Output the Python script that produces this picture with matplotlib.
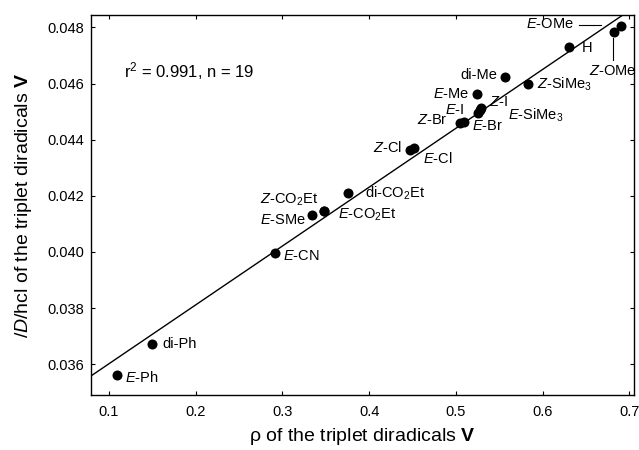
"""
Zero-field splitting |D/hc| vs spin density rho for triplet diradicals V
"""

import matplotlib
matplotlib.use('Agg')
import matplotlib.pyplot as plt

plt.rcParams['font.family'] = ['Liberation Sans', 'DejaVu Sans']
plt.rcParams['mathtext.fontset'] = 'custom'
plt.rcParams['mathtext.rm'] = 'Liberation Sans'
plt.rcParams['mathtext.it'] = 'Liberation Sans:italic'
plt.rcParams['mathtext.bf'] = 'Liberation Sans:bold'

# data
labels = ['$\\mathit{E}$-Ph', 'di-Ph', '$\\mathit{E}$-CN', '$\\mathit{E}$-SMe',
          '$\\mathit{Z}$-CO$_2$Et', '$\\mathit{E}$-CO$_2$Et', 'di-CO$_2$Et',
          '$\\mathit{Z}$-Cl', '$\\mathit{E}$-Cl', '$\\mathit{Z}$-Br', '$\\mathit{E}$-Br',
          '$\\mathit{E}$-I', '$\\mathit{Z}$-I', '$\\mathit{E}$-SiMe$_3$', '$\\mathit{E}$-Me',
          'di-Me', '$\\mathit{Z}$-SiMe$_3$', 'H', '$\\mathit{Z}$-OMe', '$\\mathit{E}$-OMe']
rho = [0.109, 0.150, 0.291, 0.334, 0.348, 0.348, 0.376,
       0.447, 0.452, 0.505, 0.509, 0.526, 0.529, 0.528, 0.524,
       0.557, 0.583, 0.631, 0.682, 0.690]
D = [0.03563, 0.03671, 0.03997, 0.04132, 0.04146, 0.04146, 0.04209,
     0.04362, 0.04369, 0.04460, 0.04464, 0.04496, 0.04513, 0.04506, 0.04562,
     0.04622, 0.04599, 0.04732, 0.04784, 0.04806]

# regression line
slope = 0.02097
intercept = 0.03392
fit_x = [0.079, 0.705]

# label offsets in points (dx, dy, ha, va)
offsets = {
    0: (6, -2, 'left', 'center'),
    1: (7, 0, 'left', 'center'),
    2: (6, -2, 'left', 'center'),
    3: (-4, -4, 'right', 'center'),
    4: (-4, 8, 'right', 'center'),
    5: (10, -3, 'left', 'center'),
    6: (12, 0, 'left', 'center'),
    7: (-6, 2, 'right', 'center'),
    8: (6, -7, 'left', 'center'),
    9: (-9, 2, 'right', 'center'),
    10: (6, -3, 'left', 'center'),
    11: (-10, 2, 'right', 'center'),
    12: (6, 4, 'left', 'center'),
    13: (20, -4, 'left', 'center'),
    14: (-5, 0, 'right', 'center'),
    15: (-6, 2, 'right', 'center'),
    16: (7, 0, 'left', 'center'),
    17: (9, -1, 'left', 'center'),
}

fig = plt.figure(figsize=(6.39, 4.5), dpi=100)
ax = fig.add_axes([0.142, 0.122, 0.8495, 0.845])

xs = [fit_x[0], fit_x[1]]
ax.plot(xs, [intercept + slope * x for x in xs], color='black', lw=1.0, zorder=1)
ax.scatter(rho, D, s=52, color='black', zorder=3, linewidths=0)

for i, lab in enumerate(labels):
    if i in offsets:
        dx, dy, ha, va = offsets[i]
        ax.annotate(lab, (rho[i], D[i]), xytext=(dx, dy), textcoords='offset points',
                    ha=ha, va=va, fontsize=10.5)

# E-OMe and Z-OMe with leader lines
ax.annotate(labels[19], (rho[19], D[19]), xytext=(-34, 1), textcoords='offset points',
            ha='right', va='center', fontsize=10.5)
ax.plot([0.642, 0.667], [0.04810, 0.04810], color='black', lw=0.8)
ax.annotate(labels[18], (rho[18], D[18]), xytext=(-1, -28), textcoords='offset points',
            ha='center', va='center', fontsize=10.5)
ax.plot([0.6815, 0.6815], [0.04763, 0.04685], color='black', lw=0.8)

ax.text(0.117, 0.04645, 'r$^2$ = 0.991, n = 19', fontsize=12, va='center')

ax.set_xlim(0.079, 0.705)
ax.set_ylim(0.0349, 0.04845)
ax.set_xticks([0.1, 0.2, 0.3, 0.4, 0.5, 0.6, 0.7])
ax.set_yticks([0.036, 0.038, 0.040, 0.042, 0.044, 0.046, 0.048])
ax.set_xticklabels(['0.1', '0.2', '0.3', '0.4', '0.5', '0.6', '0.7'])
ax.set_yticklabels(['0.036', '0.038', '0.040', '0.042', '0.044', '0.046', '0.048'])
ax.tick_params(direction='in', length=3, width=0.8, top=True, right=True,
               labelsize=10.5)
ax.tick_params(axis='x', pad=7)
ax.tick_params(axis='y', pad=5)
for sp in ax.spines.values():
    sp.set_linewidth(1.0)

ax.set_xlabel('\u03c1 of the triplet diradicals $\\mathbf{V}$', fontsize=14, labelpad=5)
ax.set_ylabel('$\\mathit{/D}$/hcl of the triplet diradicals $\\mathbf{V}$', fontsize=14,
              labelpad=9)

plt.savefig('out.png', dpi=100)
